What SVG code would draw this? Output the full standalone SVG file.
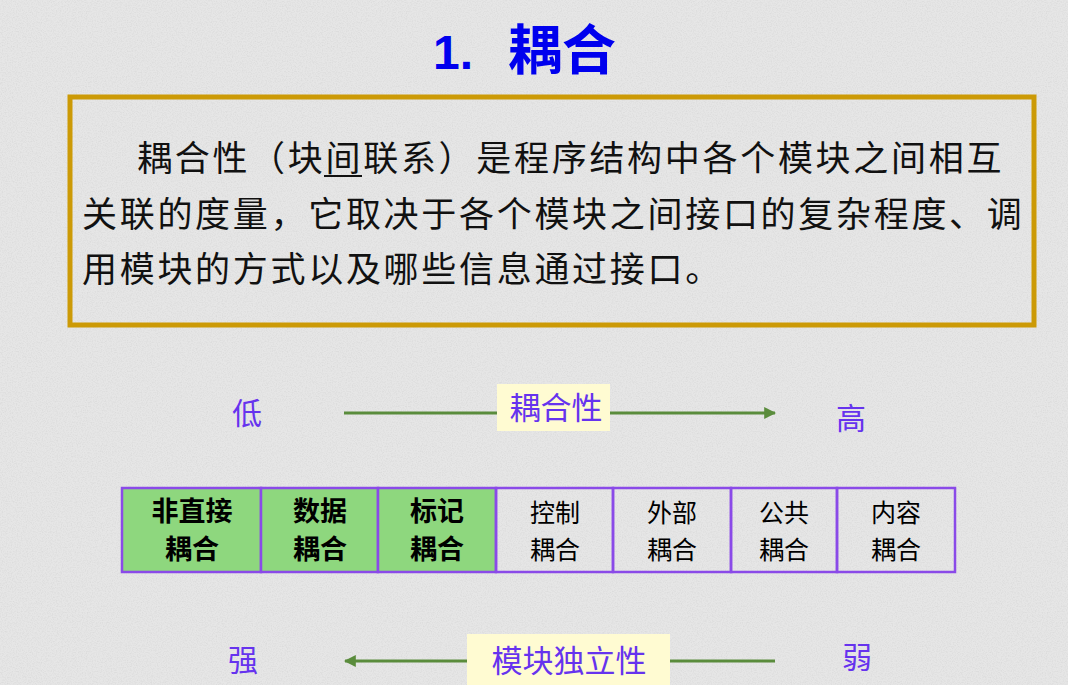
<svg xmlns="http://www.w3.org/2000/svg" width="1068" height="685" viewBox="0 0 1068 685">
<defs>
<filter id="noise" x="0" y="0" width="100%" height="100%">
<feTurbulence type="fractalNoise" baseFrequency="0.8" numOctaves="2" seed="3" result="t"/>
<feColorMatrix in="t" type="matrix" values="0 0 0 0 0.55  0 0 0 0 0.55  0 0 0 0 0.55  0 0 0 -1.5 0.9" result="n"/>
<feComposite in="n" in2="SourceGraphic" operator="in"/>
</filter>
<marker id="ah" viewBox="0 0 10 10" refX="9" refY="5" markerWidth="4" markerHeight="4" orient="auto-start-reverse" markerUnits="strokeWidth">
<path d="M0,0 L10,5 L0,10 z" fill="#5A8C3C"/>
</marker>
<style>
.body{font-family:"Noto Sans CJK SC","Noto Sans CJK TC",sans-serif;font-size:35px;fill:#111;letter-spacing:2.7px}
.end{font-family:"Noto Sans CJK SC",sans-serif;font-size:30px;fill:#6633EE;text-anchor:middle}
.lbl{font-family:"Noto Sans CJK SC",sans-serif;font-size:31px;fill:#6633EE;text-anchor:middle}
.lblbox{fill:#FFFBD2}
.cell{stroke:#8A4AE8;stroke-width:2.5}
.green{fill:#8ED77E}
.clear{fill:none}
.ct{font-family:"Noto Sans CJK SC",sans-serif;font-size:25px;fill:#000;text-anchor:middle}
.b{font-weight:bold;font-size:27px}
.conn{stroke:#5A8C3C;stroke-width:3;fill:none}
</style>
</defs>
<rect width="1068" height="685" fill="#E6E6E6"/>
<rect width="1068" height="685" fill="#E6E6E6" filter="url(#noise)" opacity="0.45"/>

<g id="title">
<text x="433" y="69" font-family="Liberation Sans, sans-serif" font-weight="bold" font-size="48" fill="#0000EE">1.</text>
<text x="508" y="70" font-family="Noto Sans CJK SC, sans-serif" font-weight="bold" font-size="54" fill="#0000EE">耦合</text>
</g>

<g id="definition">
<rect x="70" y="97" width="964" height="228" fill="none" stroke="#CC9A06" stroke-width="5"/>
<text class="body" x="137" y="171">耦合性（块间联系）是程序结构中各个模块之间相互</text>
<line x1="324" y1="176" x2="362" y2="176" stroke="#111" stroke-width="2"/>
<text class="body" x="82" y="227">关联的度量，它取决于各个模块之间接口的复杂程度、调</text>
<text class="body" x="82" y="282">用模块的方式以及哪些信息通过接口。</text>
</g>

<g id="connectors">
<line class="conn" x1="344" y1="413" x2="775" y2="413" marker-end="url(#ah)"/>
<line class="conn" x1="775" y1="661" x2="345" y2="661" marker-end="url(#ah)"/>
</g>

<g id="low"><text class="end" x="247" y="424">低</text></g>
<g id="high"><text class="end" x="851" y="429">高</text></g>
<g id="coupling-label">
<rect class="lblbox" x="497" y="384" width="113" height="47"/>
<text class="lbl" x="556" y="419">耦合性</text>
</g>

<g id="strong"><text class="end" x="243" y="671">强</text></g>
<g id="weak"><text class="end" x="857" y="668">弱</text></g>
<g id="independence-label">
<rect class="lblbox" x="467" y="634" width="203" height="51"/>
<text class="lbl" x="569" y="672">模块独立性</text>
</g>

<g id="c1"><rect class="cell green" x="122" y="488" width="139" height="84"/>
<text class="ct b" x="192" y="521">非直接</text><text class="ct b" x="192" y="559">耦合</text></g>
<g id="c2"><rect class="cell green" x="261" y="488" width="117" height="84"/>
<text class="ct b" x="320" y="521">数据</text><text class="ct b" x="320" y="559">耦合</text></g>
<g id="c3"><rect class="cell green" x="378" y="488" width="118" height="84"/>
<text class="ct b" x="437" y="521">标记</text><text class="ct b" x="437" y="559">耦合</text></g>
<g id="c4"><rect class="cell clear" x="496" y="488" width="117" height="84"/>
<text class="ct" x="555" y="522">控制</text><text class="ct" x="555" y="559">耦合</text></g>
<g id="c5"><rect class="cell clear" x="613" y="488" width="118" height="84"/>
<text class="ct" x="672" y="522">外部</text><text class="ct" x="672" y="559">耦合</text></g>
<g id="c6"><rect class="cell clear" x="731" y="488" width="106" height="84"/>
<text class="ct" x="784" y="522">公共</text><text class="ct" x="784" y="559">耦合</text></g>
<g id="c7"><rect class="cell clear" x="837" y="488" width="118" height="84"/>
<text class="ct" x="896" y="522">内容</text><text class="ct" x="896" y="559">耦合</text></g>
</svg>
